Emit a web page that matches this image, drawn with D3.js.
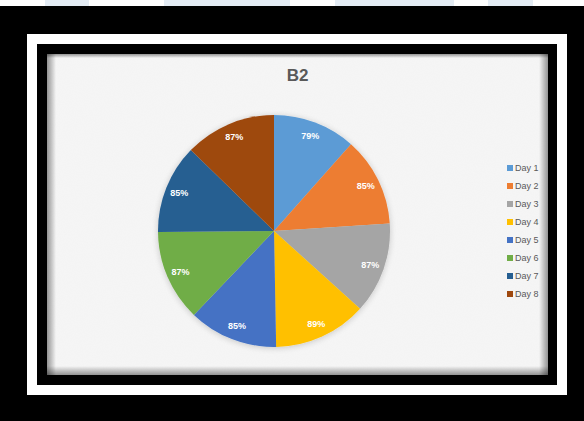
<!DOCTYPE html>
<html>
<head>
<meta charset="utf-8">
<script src="https://cdn.jsdelivr.net/npm/d3@7/dist/d3.min.js"></script>
<style>
  html, body { margin: 0; padding: 0; background: #000; }
  svg { display: block; }
</style>
</head>
<body>
<svg id="chart" width="584" height="421"></svg>
<script>
const categories = ["Day 1", "Day 2", "Day 3", "Day 4", "Day 5", "Day 6", "Day 7", "Day 8"];
const values = [79, 85, 87, 89, 85, 87, 85, 87];
const valueLabels = ["79%", "85%", "87%", "89%", "85%", "87%", "85%", "87%"];
const colors = ["#5B9BD5", "#ED7D31", "#A5A5A5", "#FFC000", "#4472C4", "#70AD47", "#255E91", "#9E480E"];
const title = "B2";

const svg = d3.select("#chart");
const defs = svg.append("defs");

// background
svg.append("rect").attr("width", 584).attr("height", 421).attr("fill", "#000");
// top white strip with faint watermark
svg.append("rect").attr("x", 0).attr("y", 0).attr("width", 584).attr("height", 6).attr("fill", "#fff");
[[45, 44], [164, 126], [335, 119], [488, 45]].forEach(([x, w]) => {
  svg.append("rect").attr("x", x).attr("y", 0).attr("width", w).attr("height", 6).attr("fill", "#e4ecf4");
});

// white frame band
svg.append("rect").attr("x", 27).attr("y", 34).attr("width", 540).attr("height", 361).attr("fill", "#fff");
svg.append("rect").attr("x", 37).attr("y", 44).attr("width", 520).attr("height", 341).attr("fill", "#000");

// chart area
const ca = {x: 47, y: 54, w: 501, h: 321};
svg.append("rect").attr("x", ca.x).attr("y", ca.y).attr("width", ca.w).attr("height", ca.h).attr("fill", "#f6f6f6");

// subtle texture
const tex = defs.append("filter").attr("id", "tex").attr("x", 0).attr("y", 0).attr("width", 1).attr("height", 1);
tex.append("feTurbulence").attr("type", "fractalNoise").attr("baseFrequency", 0.9).attr("numOctaves", 2).attr("seed", 3);
tex.append("feColorMatrix").attr("type", "matrix")
  .attr("values", "0 0 0 0 0.6  0 0 0 0 0.6  0 0 0 0 0.6  0 0 0 0.07 0");
svg.append("rect").attr("x", ca.x).attr("y", ca.y).attr("width", ca.w).attr("height", ca.h).attr("filter", "url(#tex)");

// inner shadow edges
function grad(id, x1, y1, x2, y2) {
  const g = defs.append("linearGradient").attr("id", id)
    .attr("x1", x1).attr("y1", y1).attr("x2", x2).attr("y2", y2);
  g.append("stop").attr("offset", "0%").attr("stop-color", "#000").attr("stop-opacity", 0.4);
  g.append("stop").attr("offset", "100%").attr("stop-color", "#000").attr("stop-opacity", 0);
}
grad("gL", 0, 0, 1, 0); grad("gR", 1, 0, 0, 0); grad("gT", 0, 0, 0, 1); grad("gB", 0, 1, 0, 0);
const sw = 9;
svg.append("rect").attr("x", ca.x).attr("y", ca.y).attr("width", sw).attr("height", ca.h).attr("fill", "url(#gL)");
svg.append("rect").attr("x", ca.x + ca.w - sw).attr("y", ca.y).attr("width", sw).attr("height", ca.h).attr("fill", "url(#gR)");
svg.append("rect").attr("x", ca.x).attr("y", ca.y).attr("width", ca.w).attr("height", 4).attr("fill", "url(#gT)");
svg.append("rect").attr("x", ca.x).attr("y", ca.y + ca.h - sw).attr("width", ca.w).attr("height", sw).attr("fill", "url(#gB)");

// title
svg.append("text").attr("x", ca.x + ca.w / 2).attr("y", 80.5)
  .attr("text-anchor", "middle")
  .attr("font-family", "Liberation Sans, Arial, sans-serif")
  .attr("font-weight", "bold").attr("font-size", 17)
  .attr("fill", "#595959").text(title);

// pie
const cx = 274, cy = 231, r = 116;
const shadow = defs.append("filter").attr("id", "pshadow").attr("x", "-20%").attr("y", "-20%").attr("width", "140%").attr("height", "140%");
shadow.append("feGaussianBlur").attr("in", "SourceAlpha").attr("stdDeviation", 3).attr("result", "b");
shadow.append("feOffset").attr("in", "b").attr("dx", 0).attr("dy", 1).attr("result", "o");
shadow.append("feComponentTransfer").attr("in", "o").attr("result", "s")
  .append("feFuncA").attr("type", "linear").attr("slope", 0.2);
const m = shadow.append("feMerge");
m.append("feMergeNode").attr("in", "s");
m.append("feMergeNode").attr("in", "SourceGraphic");

const pie = d3.pie().sort(null).value(d => d.value);
const data = categories.map((c, i) => ({cat: c, value: values[i], label: valueLabels[i], color: colors[i]}));
const arcs = pie(data);
const arc = d3.arc().innerRadius(0).outerRadius(r);
const labelArc = d3.arc().innerRadius(102).outerRadius(102);

const g = svg.append("g").attr("transform", `translate(${cx},${cy})`);
g.append("g").attr("filter", "url(#pshadow)")
  .selectAll("path").data(arcs).join("path")
  .attr("d", arc).attr("fill", d => d.data.color);

g.selectAll("text.lbl").data(arcs).join("text").attr("class", "lbl")
  .attr("transform", d => `translate(${labelArc.centroid(d)})`)
  .attr("text-anchor", "middle").attr("dy", "0.35em")
  .attr("font-family", "Liberation Sans, Arial, sans-serif")
  .attr("font-weight", "bold").attr("font-size", 9)
  .attr("fill", "#fff").text(d => d.data.label);

// legend
const ly = d3.scalePoint().domain(categories).range([168, 294]);
const lg = svg.append("g");
const items = lg.selectAll("g").data(data).join("g")
  .attr("transform", d => `translate(507,${ly(d.cat)})`);
items.append("rect").attr("x", 0).attr("y", -3).attr("width", 6).attr("height", 6).attr("fill", d => d.color);
items.append("text").attr("x", 8).attr("dy", "0.35em")
  .attr("font-family", "Liberation Sans, Arial, sans-serif")
  .attr("font-size", 9).attr("fill", "#595959").text(d => d.cat);
</script>
</body>
</html>
